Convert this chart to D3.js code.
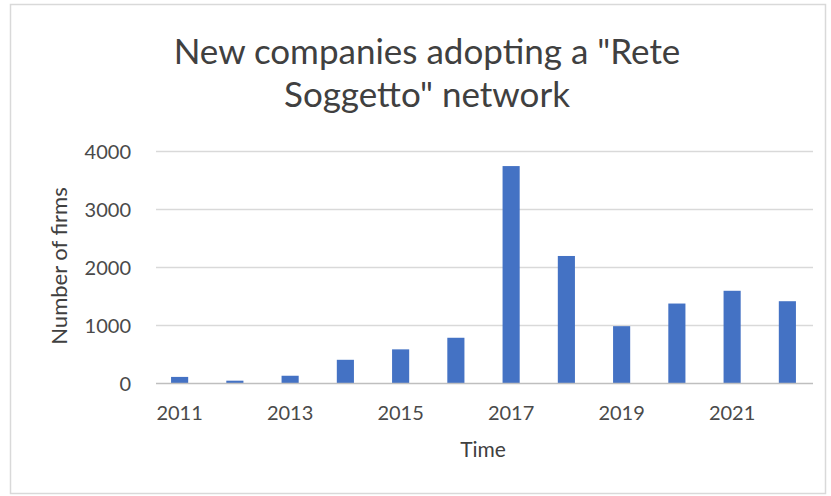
<!DOCTYPE html>
<html>
<head>
<meta charset="utf-8">
<script src="https://cdn.jsdelivr.net/npm/d3@7"></script>
<style>
  html, body { margin: 0; padding: 0; background: #ffffff; }
  svg { display: block; }
  text { font-family: Lato, "Open Sans", "Liberation Sans", sans-serif; }
</style>
</head>
<body>
<svg id="chart" width="831" height="496"></svg>
<script>
// Yearly counts of new firms joining a "Rete Soggetto" network
const years = [2011, 2012, 2013, 2014, 2015, 2016, 2017, 2018, 2019, 2020, 2021, 2022];
const firms = [105, 40, 125, 400, 580, 780, 3740, 2190, 980, 1370, 1590, 1410];
const yTicks = [0, 1000, 2000, 3000, 4000];
const xTickLabels = [2011, 2013, 2015, 2017, 2019, 2021];
const titleLines = ['New companies adopting a "Rete', 'Soggetto" network'];

const svg = d3.select("#chart");

// chart frame
svg.append("rect")
  .attr("x", 10.5).attr("y", 4.5)
  .attr("width", 815).attr("height", 489)
  .attr("fill", "#ffffff")
  .attr("stroke", "#d9d9d9")
  .attr("stroke-width", 1.5);

const plot = { left: 152, right: 815, top: 151, bottom: 383 };

const x = d3.scaleBand()
  .domain(years)
  .range([plot.left, plot.right])
  .paddingInner(0.69)
  .paddingOuter(0.345);

const y = d3.scaleLinear()
  .domain([0, 4000])
  .range([plot.bottom, plot.top]);

// horizontal gridlines
svg.append("g")
  .selectAll("line")
  .data(yTicks.filter(d => d > 0))
  .join("line")
  .attr("x1", plot.left + 4).attr("x2", plot.right - 2)
  .attr("y1", d => y(d) + 0.5).attr("y2", d => y(d) + 0.5)
  .attr("stroke", "#d9d9d9")
  .attr("stroke-width", 1.5);

// y axis labels
const yAxis = d3.axisLeft(y)
  .tickValues(yTicks)
  .tickFormat(d3.format("d"))
  .tickSize(0)
  .tickPadding(0);
const gy = svg.append("g")
  .attr("transform", `translate(${plot.left - 21},0)`)
  .call(yAxis);
gy.select(".domain").remove();
gy.selectAll("text")
  .attr("fill", "#4a4a4a")
  .attr("font-size", 20)
  .attr("dy", "0.35em");

// bars
svg.append("g")
  .selectAll("rect")
  .data(years.map((yr, i) => ({ yr, v: firms[i] })))
  .join("rect")
  .attr("x", d => x(d.yr))
  .attr("y", d => y(d.v))
  .attr("width", x.bandwidth())
  .attr("height", d => y(0) - y(d.v))
  .attr("fill", "#4472c4");

// category axis
const xAxis = d3.axisBottom(x)
  .tickValues(xTickLabels)
  .tickSize(0)
  .tickPadding(30);
const gx = svg.append("g")
  .attr("transform", `translate(0,${plot.bottom})`)
  .call(xAxis);
gx.select(".domain")
  .attr("d", `M${plot.left + 4},0.5H${plot.right - 2}`)
  .attr("stroke", "#bfbfbf")
  .attr("stroke-width", 1.5);
gx.selectAll("text")
  .attr("fill", "#4a4a4a")
  .attr("font-size", 20)
  .attr("dy", "0.35em");

// axis titles
svg.append("text")
  .attr("x", 483).attr("y", 457)
  .attr("text-anchor", "middle")
  .attr("fill", "#404040")
  .attr("font-size", 21)
  .text("Time");

svg.append("text")
  .attr("transform", "translate(67,266) rotate(-90)")
  .attr("text-anchor", "middle")
  .attr("fill", "#404040")
  .attr("font-size", 22)
  .text("Number of firms");

// chart title
svg.append("g")
  .selectAll("text")
  .data(titleLines)
  .join("text")
  .attr("x", 427)
  .attr("y", (d, i) => 64 + i * 43)
  .attr("text-anchor", "middle")
  .attr("fill", "#404040")
  .attr("font-size", 35)
  .text(d => d);
</script>
</body>
</html>
